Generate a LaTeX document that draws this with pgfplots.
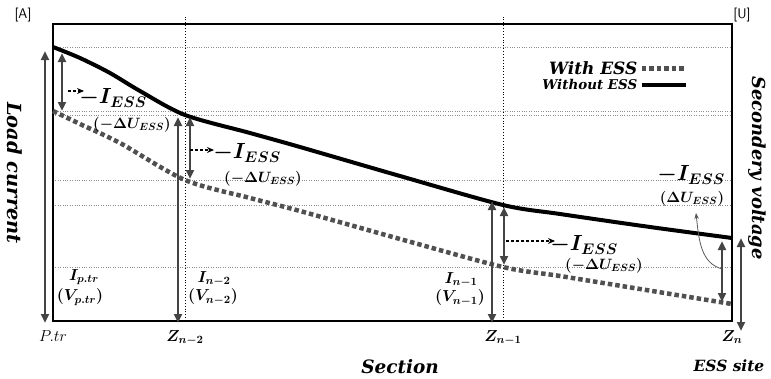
\RequirePackage{fix-cm}
\documentclass[border=0pt]{standalone}
\usepackage{amsmath}
\usepackage{fontspec}
\usepackage{pgfplots}
\pgfplotsset{compat=1.18}
\usetikzlibrary{arrows.meta}
\newfontfamily\tf{DejaVu Serif}
\definecolor{arr}{HTML}{444444}
\definecolor{dotc}{HTML}{505050}
\tikzset{
  darr/.style={draw=arr, line width=2.8bp, {Triangle[length=9bp,width=8bp]}-{Triangle[length=9bp,width=8bp]}},
  dsh/.style={draw=black, line width=1.1bp, dash pattern=on 3bp off 2bp, -{Stealth[length=7bp,width=6bp]}},
  bigl/.style={font=\fontsize{22}{26}\selectfont\boldmath, inner sep=0pt},
  smll/.style={font=\fontsize{15}{18}\selectfont\boldmath, inner sep=0pt},
  lbll/.style={font=\fontsize{16}{19}\selectfont\boldmath, inner sep=0pt},
}
\begin{document}
\begin{tikzpicture}
\path[use as bounding box] (-53bp,-58bp) rectangle (718bp,321bp);
\begin{axis}[
  at={(0bp,0bp)}, anchor=south west,
  x=1bp, y=1bp, xmin=0, xmax=679, ymin=0, ymax=297,
  axis line style={line width=1.5bp},
  clip=false,
  xtick={0,132,450,679},
  xticklabels={$P.tr$,$\boldsymbol{Z_{n-2}}$,$\boldsymbol{Z_{n-1}}$,$\boldsymbol{Z_{n}}$},
  xticklabel style={font=\fontsize{16}{19}\selectfont, yshift=-6bp},
  ytick={54,116,141,206,210,274},
  yticklabels={},
  ymajorgrids,
  grid style={gray!90, dotted, line width=0.7bp},
  major tick length=0pt,
  legend plot pos=right,
  legend style={at={(axis cs:638,264)}, anchor=north east, draw=none, fill=none},
  legend cell align=right,
  legend image code/.code={\draw[#1] (0bp,0bp) -- (44bp,0bp);},
]
\draw[black, dotted, line width=0.9bp] (axis cs:132,0) -- (axis cs:132,304);
\draw[black, dotted, line width=0.9bp] (axis cs:450,0) -- (axis cs:450,304);

\addplot[dotc, line width=4.5bp, dash pattern=on 4.5bp off 3bp, smooth, tension=0.5] coordinates {
(0,210) (27,197) (67,178) (132,141) (197,123) (247,110) (347,82) (450,54) (507,45) (587,32) (679,17)};
\addlegendentry{\tf\bfseries\itshape\fontsize{17}{20}\selectfont With ESS}
\addplot[black, line width=4bp, smooth, tension=0.5] coordinates {
(0,274) (27,263) (57,248) (87,230) (132,206) (197,188) (247,174) (347,145) (450,116) (507,107) (597,94) (679,83)};
\addlegendentry{\tf\bfseries\itshape\fontsize{13.5}{16}\selectfont Without ESS}

\draw[darr] (axis cs:-8,270) -- (axis cs:-8,-2);
\draw[darr] (axis cs:9,268) -- (axis cs:9,210);
\draw[darr] (axis cs:125,204) -- (axis cs:125,-2);
\draw[darr] (axis cs:137,204) -- (axis cs:137,142);
\draw[darr] (axis cs:439,120) -- (axis cs:439,-2);
\draw[darr] (axis cs:451,114) -- (axis cs:451,56);
\draw[darr] (axis cs:669,80) -- (axis cs:669,19);
\draw[darr] (axis cs:688,83) -- (axis cs:688,-10);

\draw[dsh] (axis cs:15,230) -- (axis cs:31,230);
\draw[dsh] (axis cs:137,171) -- (axis cs:161,171);
\draw[dsh] (axis cs:453,80) -- (axis cs:502,80);

\draw[gray!70!black, line width=0.8bp, -{Stealth[length=6bp,width=4.5bp]}] (axis cs:669,52) .. controls (axis cs:648,58) and (axis cs:646,80) .. (axis cs:643,108);

\node[bigl] at (axis cs:60,223) {$-I_{ESS}$};
\node[smll] at (axis cs:79,196) {$(-\Delta U_{ESS})$};
\node[bigl] at (axis cs:194,168) {$-I_{ESS}$};
\node[smll] at (axis cs:210,142) {$(-\Delta U_{ESS})$};
\node[bigl] at (axis cs:531,76) {$-I_{ESS}$};
\node[smll] at (axis cs:551,55) {$(-\Delta U_{ESS})$};
\node[bigl] at (axis cs:638,146) {$-I_{ESS}$};
\node[smll] at (axis cs:639,122) {$(\Delta U_{ESS})$};

\node[lbll] at (axis cs:31,44) {$I_{p.tr}$};
\node[lbll] at (axis cs:27,24) {$(V_{p.tr})$};
\node[lbll] at (axis cs:161,42) {$I_{n-2}$};
\node[lbll] at (axis cs:160,24) {$(V_{n-2})$};
\node[lbll] at (axis cs:408,41) {$I_{n-1}$};
\node[lbll] at (axis cs:407,23) {$(V_{n-1})$};

\node[rotate=-90, font=\tf\bfseries\itshape\fontsize{19.5}{22}\selectfont] at (axis cs:-38,148) {Load current};
\node[rotate=-90, font=\tf\bfseries\itshape\fontsize{18}{22}\selectfont] at (axis cs:704,153) {Secondery voltage};
\node[font=\tf\bfseries\itshape\fontsize{18.5}{22}\selectfont] at (axis cs:347,-46) {Section};
\node[font=\tf\bfseries\itshape\fontsize{15.5}{20}\selectfont] at (axis cs:676,-45) {ESS site};
\node[font=\sffamily\fontsize{14}{16}\selectfont] at (axis cs:-30,306) {{[A]}};
\node[font=\sffamily\fontsize{14}{16}\selectfont] at (axis cs:689,306) {{[U]}};
\end{axis}
\end{tikzpicture}
\end{document}
